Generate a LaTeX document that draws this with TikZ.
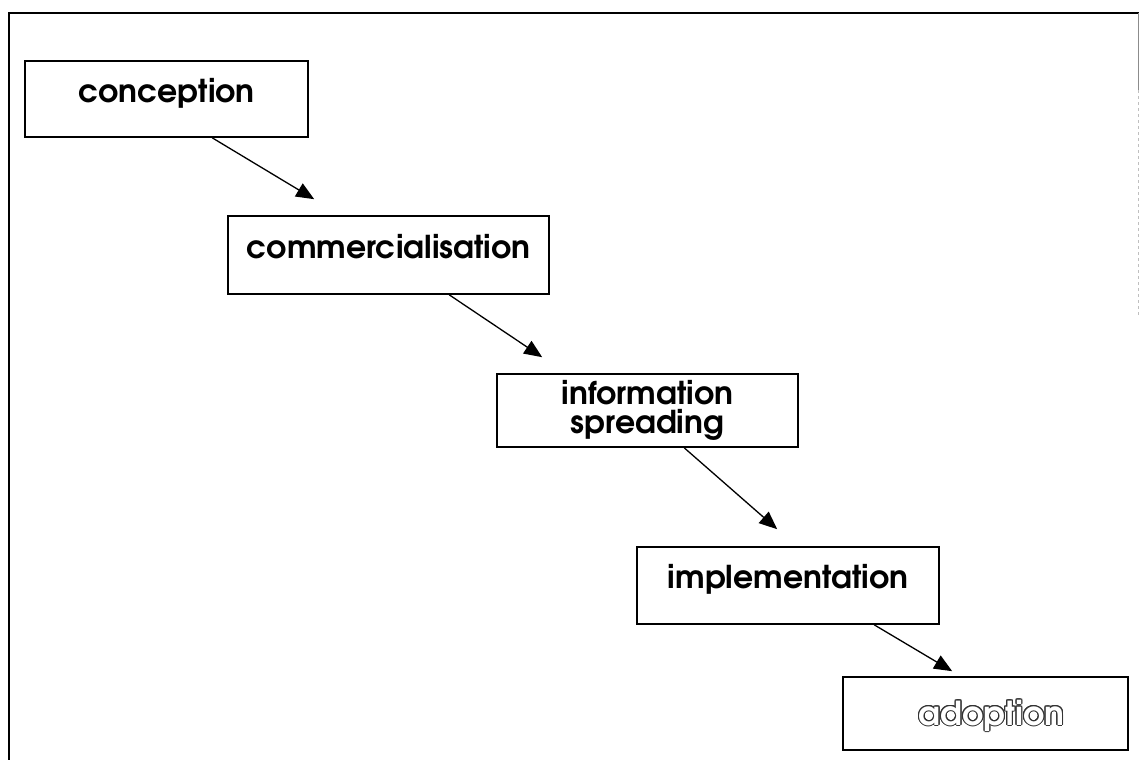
\documentclass[tikz,border=0pt]{standalone}
\usepackage{fontspec}
\setmainfont{TeX Gyre Adventor}
\usepackage[copies]{contour}
\usetikzlibrary{arrows.meta}

\tikzset{
    stage/.style={draw, line width=1.6pt, font=\fontsize{31.5}{29}\selectfont\bfseries, inner sep=0pt},
    lifted/.style={text height=23pt, text depth=17pt},
    flow/.style={line width=1.3pt, -{Triangle[length=18pt, width=15pt]}}
}
\contourlength{1pt}

\begin{document}
\begin{tikzpicture}[x=1pt, y=-1pt]
    \useasboundingbox (0,0) rectangle (1140,760);
    \draw[line width=1.8pt] (9,770) -- (9,13) -- (1139,13);
    \draw[line width=1pt, black!45] (1138,13) -- (1138,90);
    \draw[line width=1pt, black!25, dashed] (1138,90) -- (1138,315);

    \node[stage, lifted, minimum width=283pt, minimum height=76pt] (conc) at (166.5,99) {conception};
    \node[stage, lifted, minimum width=321pt, minimum height=78pt] (comm) at (388.5,255) {commercialisation};
    \node[stage, align=center, minimum width=301pt, minimum height=73pt] (info) at (647.5,410.5) {information\\spreading};
    \node[stage, lifted, minimum width=302pt, minimum height=77pt] (impl) at (788,585.5) {implementation};
    \node[stage, text height=30pt, text depth=7pt, minimum width=285pt, minimum height=73pt,
        font=\fontsize{33}{29}\selectfont\bfseries] (adop) at (985.5,713.5) {\hspace{12pt}\contour{black!80}{\textcolor{white}{adoption}}};

    \draw[flow] ([xshift=188pt]conc.south west) -- ([xshift=87pt, yshift=16pt]comm.north west);
    \draw[flow] ([xshift=222pt]comm.south west) -- ([xshift=46pt, yshift=16pt]info.north west);
    \draw[flow] ([xshift=188pt]info.south west) -- ([xshift=141pt, yshift=17pt]impl.north west);
    \draw[flow] ([xshift=238pt]impl.south west) -- ([xshift=110pt, yshift=5pt]adop.north west);
\end{tikzpicture}
\end{document}
